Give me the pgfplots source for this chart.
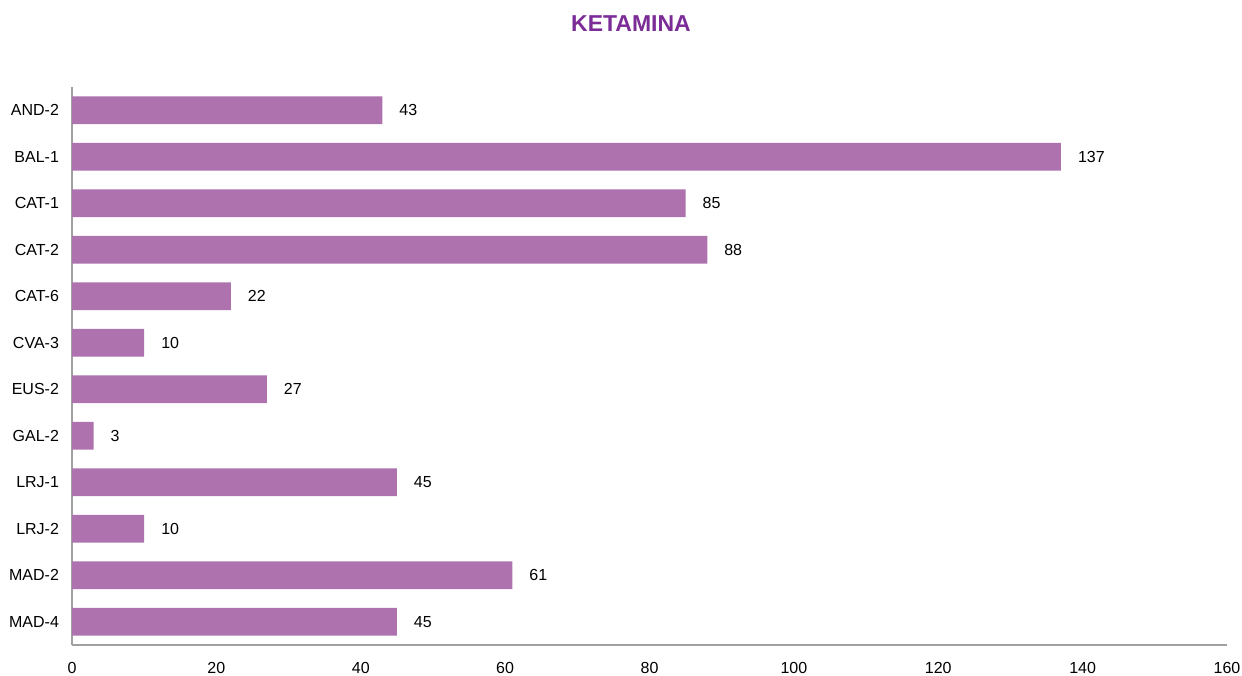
\documentclass[border=0pt]{standalone}
\usepackage{fontspec}
\setmainfont{Liberation Sans}
\usepackage{pgfplots}
\pgfplotsset{compat=1.18}
\definecolor{barpurple}{HTML}{AE72AE}
\definecolor{titlepurple}{HTML}{7B2C96}
\definecolor{axisgray}{HTML}{A0A0A0}
\begin{document}
\begin{tikzpicture}
\path[use as bounding box] (0,0) rectangle (621pt,337.5pt);
\node[font=\fontsize{11.5}{13}\selectfont\bfseries, text=titlepurple] at (315.5pt,325.5pt) {KETAMINA};
\begin{axis}[
  at={(36pt,15pt)}, anchor=south west,
  width=577.5pt, height=279pt, scale only axis,
  xbar, bar width=13.8pt,
  xmin=0, xmax=160, xtick={0,20,...,160},
  ymin=-0.5, ymax=11.5, y dir=reverse,
  ytick={0,...,11},
  yticklabels={AND-2,BAL-1,CAT-1,CAT-2,CAT-6,CVA-3,EUS-2,GAL-2,LRJ-1,LRJ-2,MAD-2,MAD-4},
  axis x line=bottom, axis y line=left,
  axis line style={-, axisgray, line width=1pt},
  major tick length=0pt,
  tick label style={font=\fontsize{8}{9.6}\selectfont},
  xticklabel style={yshift=-5pt},
  yticklabel style={xshift=-3pt},
  /pgf/number format/assume math mode=true,
  nodes near coords,
  nodes near coords style={font=\fontsize{8}{9.6}\selectfont, anchor=west, xshift=5pt},
]
\addplot[fill=barpurple, draw=none] coordinates {
  (43,0) (137,1) (85,2) (88,3) (22,4) (10,5) (27,6) (3,7) (45,8) (10,9) (61,10) (45,11)
};
\end{axis}
\end{tikzpicture}
\end{document}
